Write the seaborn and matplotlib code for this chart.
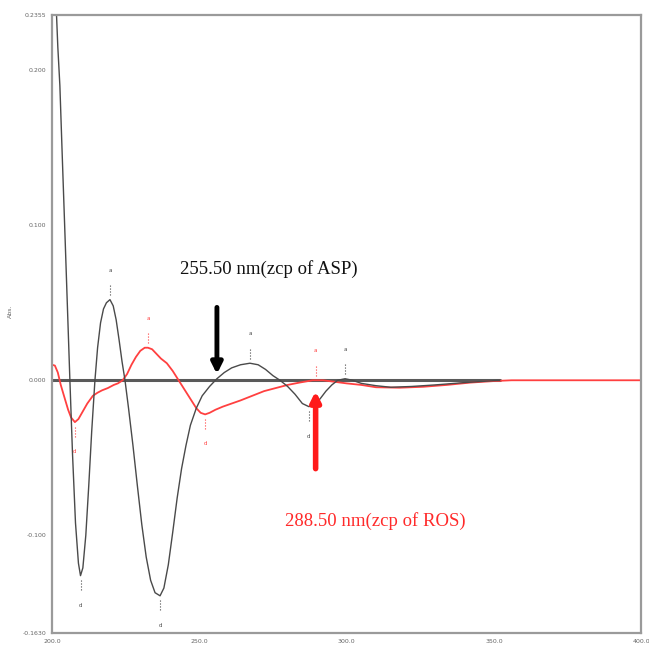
import matplotlib
matplotlib.use("Agg")
import matplotlib.pyplot as plt
import seaborn as sns
import pandas as pd

# ---- data ----
asp_nm = [200.0, 201.0, 202.0, 202.7, 203.5, 204.5, 205.3, 206.1, 207.0, 208.0, 209.0, 209.7,
          210.5, 211.5, 212.5, 213.5, 214.6, 215.5, 216.5, 217.5, 218.5, 219.7, 220.8, 221.8,
          222.8, 223.8, 224.8, 226.0, 227.5, 229.0, 230.5, 232.0, 233.5, 235.0, 236.7, 238.0,
          239.5, 241.0, 242.5, 244.0, 245.5, 247.0, 249.0, 251.0, 253.5, 256.0, 258.5, 261.0,
          264.0, 267.2, 270.0, 272.5, 275.0, 277.4, 280.0, 282.5, 285.0, 287.2, 289.0, 291.0,
          293.0, 295.0, 297.0, 299.5, 302.0, 305.0, 310.0, 315.0, 322.0, 330.0, 340.0, 352.0]
asp_abs = [0.300, 0.262, 0.215, 0.190, 0.145, 0.090, 0.045, 0.000, -0.048, -0.092, -0.118, -0.126,
           -0.121, -0.100, -0.068, -0.033, 0.000, 0.021, 0.037, 0.046, 0.050, 0.052, 0.048, 0.039,
           0.026, 0.012, 0.000, -0.018, -0.042, -0.068, -0.093, -0.114, -0.129, -0.137, -0.139, -0.134,
           -0.119, -0.098, -0.076, -0.057, -0.042, -0.029, -0.018, -0.010, -0.004, 0.001, 0.005, 0.008,
           0.010, 0.011, 0.010, 0.007, 0.003, 0.000, -0.004, -0.009, -0.015, -0.017, -0.016, -0.012,
           -0.007, -0.003, 0.000, 0.001, 0.000, -0.002, -0.0035, -0.0045, -0.004, -0.003, -0.0015, 0.000]

ros_nm = [200.0, 201.0, 202.0, 203.0, 204.4, 205.5, 206.5, 207.8, 209.0, 210.5, 212.0, 213.9,
          215.5, 217.0, 219.0, 221.0, 222.4, 224.0, 225.5, 227.0, 228.5, 230.0, 231.5, 232.6,
          234.0, 235.5, 237.0, 239.0, 241.0, 243.0, 245.0, 247.0, 249.0, 250.5, 252.0, 253.5,
          255.5, 258.0, 261.0, 264.0, 268.0, 272.0, 276.0, 280.0, 284.0, 288.5, 292.0, 296.0,
          300.0, 305.0, 310.0, 318.0, 326.0, 334.0, 342.0, 350.0, 356.0, 400.0]
ros_abs = [0.010, 0.0095, 0.005, -0.003, -0.012, -0.019, -0.024, -0.027, -0.025, -0.020, -0.015, -0.010,
           -0.008, -0.0065, -0.005, -0.003, -0.002, 0.000, 0.004, 0.010, 0.015, 0.019, 0.021, 0.021,
           0.020, 0.017, 0.014, 0.011, 0.006, 0.000, -0.006, -0.012, -0.018, -0.021, -0.022, -0.021,
           -0.019, -0.017, -0.015, -0.013, -0.010, -0.007, -0.005, -0.003, -0.0015, 0.000, 0.000, -0.001,
           -0.002, -0.003, -0.0045, -0.0048, -0.0042, -0.003, -0.0015, -0.0005, 0.000, 0.000]

baseline_nm = [200.0, 352.0]
baseline_abs = [0.0, 0.0]

# peak markers: (nm, value, direction, letter)
asp_marks = [(209.7, -0.126, -1, "d"), (219.7, 0.052, 1, "a"), (236.7, -0.139, -1, "d"),
             (267.2, 0.011, 1, "a"), (287.2, -0.017, -1, "d"), (299.5, 0.001, 1, "a")]
ros_marks = [(207.8, -0.027, -1, "d"), (232.6, 0.021, 1, "a"), (252.0, -0.022, -1, "d"),
             (289.5, 0.000, 1, "a")]

x_ticks = [200.0, 250.0, 300.0, 350.0, 400.0]
y_ticks = [-0.163, -0.100, 0.000, 0.100, 0.200, 0.2355]
y_min, y_max = -0.163, 0.2355

asp_label = "255.50 nm(zcp of ASP)"
ros_label = "288.50 nm(zcp of ROS)"
asp_zcp = 256.0
ros_zcp = 289.5

# ---- plotting ----
sns.set_style("white")
fig = plt.figure(figsize=(6.49, 6.57), dpi=100)
ax = fig.add_axes([0.080, 0.0365, 0.908, 0.9405])

black = "#4a4a4a"
red = "#ff4040"

sns.lineplot(x=baseline_nm, y=baseline_abs, ax=ax, color="#5a5a5a", lw=2.2, sort=False)
sns.lineplot(x=ros_nm, y=ros_abs, ax=ax, color=red, lw=1.3, sort=False)
sns.lineplot(x=asp_nm, y=asp_abs, ax=ax, color=black, lw=1.0, sort=False)

for marks, col in ((asp_marks, black), (ros_marks, red)):
    for nm, v, d, letter in marks:
        ax.plot([nm, nm], [v + d * 0.003, v + d * 0.010], color=col, lw=0.8, ls=":")
        ax.text(nm, v + d * 0.019, letter, color=col, fontsize=4, ha="center", va="center")

ax.set_xlim(200, 400)
ax.set_ylim(y_min, y_max)
ax.set_xticks(x_ticks)
ax.set_xticklabels([f"{t:.1f}" for t in x_ticks])
ax.set_yticks(y_ticks)
ax.set_yticklabels([f"{t:.3f}" if abs(t) < 0.15 or t == 0.2 else f"{t:.4f}" for t in y_ticks])
ax.tick_params(axis="both", direction="in", length=3, width=0.8, colors="#888888",
               labelsize=4.5, labelcolor="#666666", pad=4)
ax.set_ylabel("Abs.", fontsize=4.5, color="#666666")
ax.yaxis.set_label_coords(-0.066, 0.52)
ax.set_xlabel("")
for sp in ax.spines.values():
    sp.set_visible(True)
    sp.set_color("#9a9a9a")
    sp.set_linewidth(1.6)

ax.annotate("", xy=(asp_zcp, 0.004), xytext=(asp_zcp, 0.047),
            arrowprops=dict(arrowstyle="-|>", color="black", lw=3.5, mutation_scale=16,
                            shrinkA=0, shrinkB=0))
ax.annotate("", xy=(ros_zcp, -0.007), xytext=(ros_zcp, -0.057),
            arrowprops=dict(arrowstyle="-|>", color="#ff1a1a", lw=4.0, mutation_scale=14,
                            shrinkA=0, shrinkB=0))

ax.text(243.3, 0.072, asp_label, color="#111111", fontsize=13.5, family="Liberation Serif",
        ha="left", va="center")
ax.text(279.0, -0.091, ros_label, color="#ff2a2a", fontsize=13.5, family="Liberation Serif",
        ha="left", va="center")

fig.savefig("out.png", dpi=100)
